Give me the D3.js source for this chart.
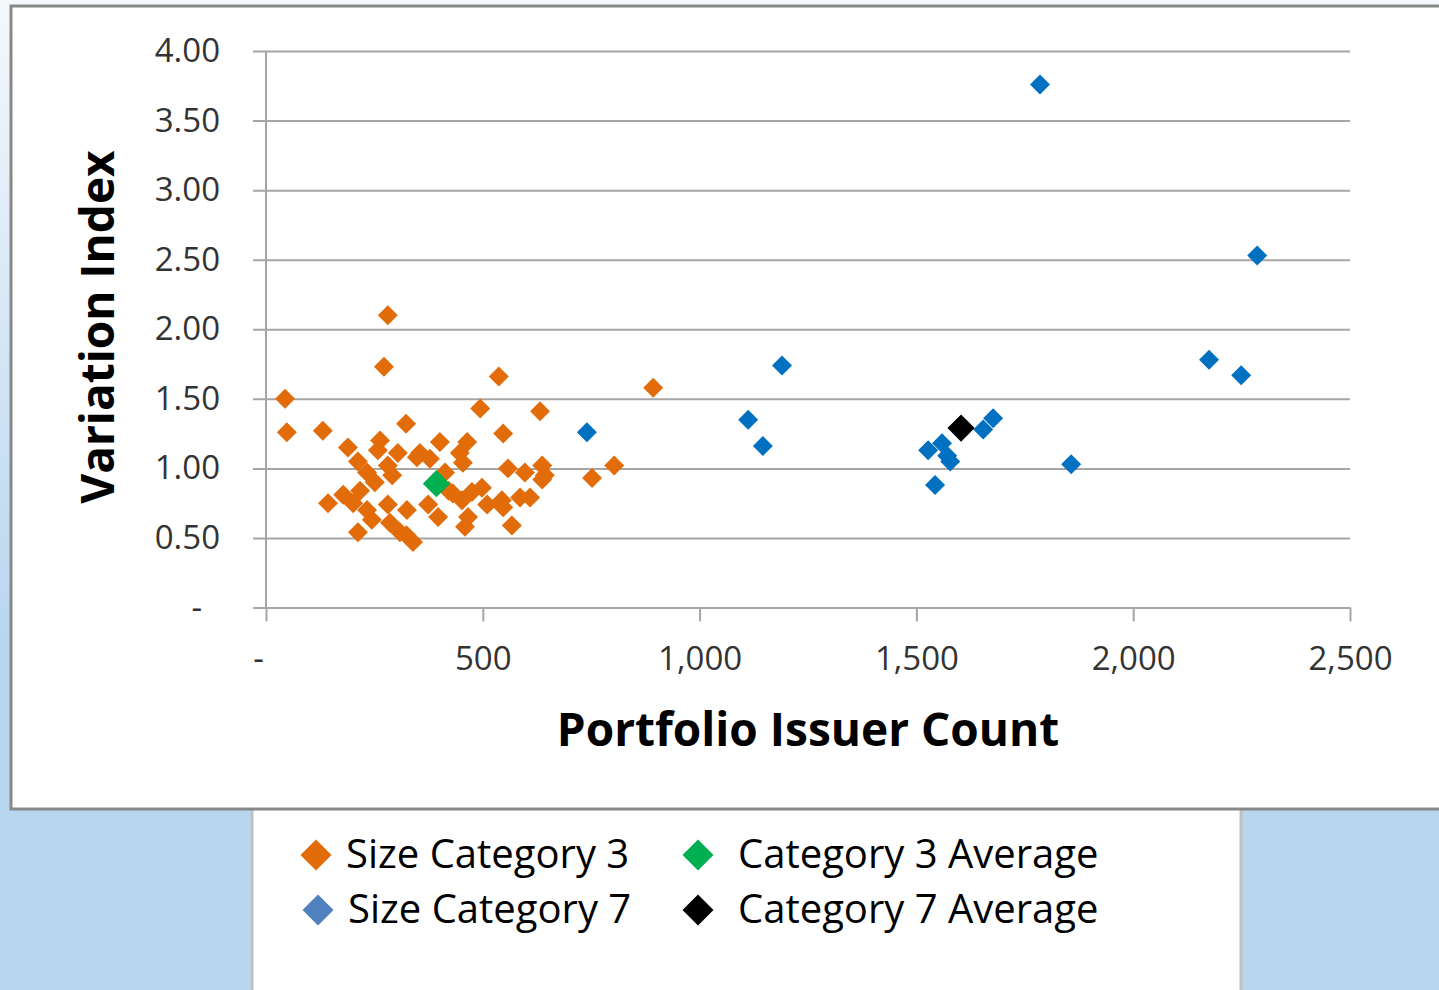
<!DOCTYPE html>
<html>
<head>
  <meta charset="utf-8">
  <title>Variation Index vs Portfolio Issuer Count</title>
  <style>
  body {
    margin: 0;
    background: #b9d6ef;
    font-family: "Open Sans", sans-serif;
  }

  .domain {
    display: none;
  }

  .grid line {
    stroke: #a6a6a6;
    stroke-width: 2;
  }

  .tick text {
    font-family: "Open Sans", sans-serif;
    font-size: 33px;
    fill: #333;
  }

  .title {
    font-weight: bold;
    font-size: 46px;
    fill: #000;
  }

  .legend text {
    font-size: 40px;
    fill: #000;
  }
  </style>
  <script src="https://d3js.org/d3.v7.min.js"></script>
</head>
<body>
<div id="container"></div>
<script>
// [issuer count, variation index]
var sizeCat3 = [
  [44, 1.50], [48, 1.26], [131, 1.27], [281, 2.10], [272, 1.73], [323, 1.32],
  [537, 1.66], [494, 1.43], [632, 1.41], [893, 1.58], [803, 1.02], [752, 0.93],
  [547, 1.25], [189, 1.15], [263, 1.20], [258, 1.13], [304, 1.11], [348, 1.08],
  [212, 1.05], [233, 0.97], [281, 1.02], [291, 0.95], [251, 0.90], [217, 0.84],
  [178, 0.81], [143, 0.75], [201, 0.75], [233, 0.70], [244, 0.63], [281, 0.74],
  [325, 0.70], [286, 0.61], [309, 0.54], [339, 0.47], [212, 0.54], [355, 1.11],
  [401, 1.19], [378, 1.07], [374, 0.74], [397, 0.65], [431, 0.82], [464, 1.19],
  [447, 1.11], [454, 1.04], [558, 1.00], [597, 0.97], [637, 1.02], [643, 0.95],
  [413, 0.97], [452, 0.77], [475, 0.83], [498, 0.86], [510, 0.74], [544, 0.77],
  [547, 0.72], [586, 0.79], [609, 0.79], [466, 0.65], [459, 0.58], [567, 0.59],
  [637, 0.92], [421, 0.84], [324, 0.52]
]

var sizeCat7 = [
  [1785, 3.76], [2286, 2.53], [2175, 1.78], [2249, 1.67], [1190, 1.74],
  [1112, 1.35], [1146, 1.16], [740, 1.26], [1857, 1.03], [1527, 1.13],
  [1559, 1.18], [1571, 1.09], [1578, 1.05], [1543, 0.88], [1654, 1.28],
  [1677, 1.36]
]

var cat3Average = [[393, 0.89]]
var cat7Average = [[1603, 1.29]]

var xTicks = [0, 500, 1000, 1500, 2000, 2500],
    yTicks = [0, 0.5, 1, 1.5, 2, 2.5, 3, 3.5, 4]

var seriesNames = ["Size Category 3", "Category 3 Average", "Size Category 7", "Category 7 Average"],
    seriesColors = ["#e36c0a", "#00b050", "#0070c0", "#000000"],
    legendColors = ["#e36c0a", "#00b050", "#4f81bd", "#000000"]

var width = 1439, height = 990

var x = d3.scaleLinear().domain([0, 2500]).range([266, 1350]),
    y = d3.scaleLinear().domain([0, 4]).range([607.5, 51])

var svg = d3.select("#container").append("svg")
    .attr("width", width)
    .attr("height", height)

var defs = svg.append("defs")
var grad = defs.append("linearGradient")
    .attr("id", "bg")
    .attr("x1", 0).attr("y1", 0).attr("x2", 0).attr("y2", 1)
grad.append("stop").attr("offset", "0%").attr("stop-color", "#f4f8fc")
grad.append("stop").attr("offset", "65%").attr("stop-color", "#b9d6ef")
grad.append("stop").attr("offset", "100%").attr("stop-color", "#b9d6ef")

svg.append("rect")
    .attr("width", width).attr("height", height)
    .attr("fill", "url(#bg)")

// legend box sits under the chart panel
svg.append("rect")
    .attr("x", 252).attr("y", 806)
    .attr("width", 989).attr("height", 200)
    .attr("fill", "#fff")
    .attr("stroke", "#c0c0c0")
    .attr("stroke-width", 3)

svg.append("rect")
    .attr("x", 11).attr("y", 6)
    .attr("width", 1450).attr("height", 803)
    .attr("fill", "#fff")
    .attr("stroke", "#888")
    .attr("stroke-width", 3)

// y axis + gridlines
var yax = d3.axisLeft(y)
  .tickValues(yTicks)
  .tickSize(-(x.range()[1] - x.range()[0]))
  .tickPadding(46)
  .tickFormat(function(d) { return d === 0 ? "-" : d3.format(".2f")(d) })

var gy = svg.append("g")
    .attr("class", "grid")
    .attr("transform", "translate(" + x(0) + ",0)")
    .call(yax)

gy.selectAll(".tick line").attr("x1", -13)
gy.selectAll(".tick text")
    .attr("x", function(d) { return d === 0 ? -64 : -46 })

// x axis
var xax = d3.axisBottom(x)
  .tickValues(xTicks)
  .tickSize(14)
  .tickPadding(25)
  .tickFormat(function(d) { return d === 0 ? "-" : d3.format(",")(d) })

var gx = svg.append("g")
    .attr("class", "grid")
    .attr("transform", "translate(0," + y(0) + ")")
    .call(xax)

gx.selectAll(".tick text")
    .attr("x", function(d) { return d === 0 ? -8 : 0 })

svg.append("line")
    .attr("x1", x(0)).attr("x2", x(0))
    .attr("y1", y(4)).attr("y2", y(0))
    .attr("stroke", "#a6a6a6")
    .attr("stroke-width", 2)

// titles
svg.append("text")
    .attr("class", "title")
    .attr("x", 808)
    .attr("y", 746)
    .attr("text-anchor", "middle")
    .text("Portfolio Issuer Count")

svg.append("text")
    .attr("class", "title")
    .attr("transform", "translate(114,327) rotate(-90)")
    .attr("text-anchor", "middle")
    .text("Variation Index")

// markers
var diamond = function(size) {
  return d3.symbol().type(d3.symbolSquare).size(size)()
}

var series = [
  { data: sizeCat3, color: seriesColors[0], size: 200 },
  { data: cat3Average, color: seriesColors[1], size: 370 },
  { data: sizeCat7, color: seriesColors[2], size: 200 },
  { data: cat7Average, color: seriesColors[3], size: 370 }
]

series.forEach(function(s) {
  svg.append("g").selectAll("path")
    .data(s.data)
  .enter().append("path")
    .attr("d", diamond(s.size))
    .attr("fill", s.color)
    .attr("transform", function(d) {
      return "translate(" + x(d[0]) + "," + y(d[1]) + ") rotate(45)"
    })
})

// legend, filled row by row like excel does
var legendPos = [[316, 855], [698, 855], [318, 910], [698, 910]]

var leg = svg.append("g").attr("class", "legend")
  .selectAll("g")
    .data(seriesNames)
  .enter().append("g")
    .attr("transform", function(d, i) {
      return "translate(" + legendPos[i][0] + "," + legendPos[i][1] + ")"
    })

leg.append("path")
    .attr("d", diamond(480))
    .attr("transform", "rotate(45)")
    .attr("fill", function(d, i) { return legendColors[i] })

leg.append("text")
    .attr("x", function(d, i) { return i % 2 === 0 ? 30 : 40 })
    .attr("y", 13)
    .text(function(d) { return d })
</script>
</body>
</html>
